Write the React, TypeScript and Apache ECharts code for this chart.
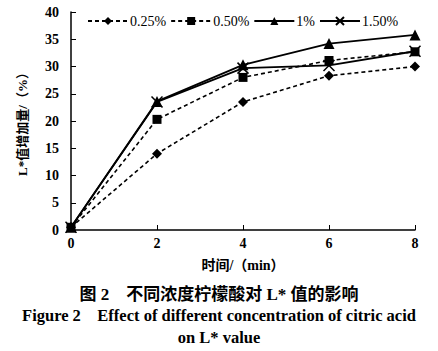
import React, { useEffect, useRef } from "react";
import * as echarts from "echarts";

const xValues = [0, 2, 4, 6, 8];
const seriesNames = ["0.25%", "0.50%", "1%", "1.50%"];
const s025 = [0.5, 14.0, 23.5, 28.3, 30.0];
const s050 = [0.5, 20.3, 28.0, 31.1, 32.7];
const s100 = [0.5, 23.6, 30.3, 34.2, 35.8];
const s150 = [0.5, 23.5, 29.7, 30.2, 32.8];
const yTicks = [0, 5, 10, 15, 20, 25, 30, 35, 40];

const serif = "'Liberation Serif', 'Times New Roman', serif";
const cjk = "'Liberation Serif', 'Noto Sans CJK SC', serif";

export default function App() {
  const ref = useRef<HTMLDivElement>(null);
  useEffect(() => {
    const chart = echarts.init(ref.current!, undefined, { renderer: "svg" });
    const mk = (arr: number[]) => arr.map((v, i) => [xValues[i], v]);
    const base = (name: string, data: number[], dashed: boolean, symbol: string, size: number, extra: any = {}) => ({
      name,
      type: "line",
      data: mk(data),
      symbol,
      symbolSize: size,
      showSymbol: true,
      lineStyle: { color: "#000", width: dashed ? 1.6 : 1.8, type: dashed ? [4, 3] : "solid" },
      itemStyle: { color: "#000", ...(extra.itemStyle || {}) },
      z: extra.z || 2,
    });
    chart.setOption({
      animation: false,
      backgroundColor: "#fff",
      grid: { left: 71, right: 23, top: 12, bottom: 121, containLabel: false },
      legend: {
        left: 82,
        top: 9,
        itemWidth: 40,
        itemHeight: 10,
        itemGap: 4,
        textStyle: { fontFamily: serif, fontSize: 14, color: "#000", padding: [0, 0, 0, -3] },
        data: seriesNames,
      },
      xAxis: {
        type: "value",
        min: 0,
        max: 8,
        interval: 2,
        axisLine: { lineStyle: { color: "#000", width: 1.5 } },
        axisTick: { inside: true, length: 5, lineStyle: { color: "#000" } },
        axisLabel: { color: "#000", fontFamily: serif, fontWeight: "bold", fontSize: 14, margin: 6 },
        splitLine: { show: false },
        name: "时间/（min）",
        nameLocation: "middle",
        nameGap: 28,
        nameTextStyle: { color: "#000", fontFamily: cjk, fontSize: 14, fontWeight: "bold" },
      },
      yAxis: {
        type: "value",
        min: 0,
        max: 40,
        interval: 5,
        axisLine: { show: true, lineStyle: { color: "#000", width: 1.5 } },
        axisTick: { show: true, inside: true, length: 5, lineStyle: { color: "#000" } },
        axisLabel: { color: "#000", fontFamily: serif, fontWeight: "bold", fontSize: 14, margin: 12 },
        splitLine: { show: false },
        name: "L*值增加量/（%）",
        nameLocation: "middle",
        nameGap: 42,
        nameRotate: 90,
        nameTextStyle: { color: "#000", fontFamily: cjk, fontSize: 13, fontWeight: "bold" },
      },
      series: [
        base("0.25%", s025, true, "diamond", 10),
        base("0.50%", s050, true, "rect", 9),
        base("1%", s100, false, "triangle", 11, { z: 3 }),
        base("1.50%", s150, false, "path://M0,0L10,10M10,0L0,10", 11, {
          itemStyle: { color: "none", borderColor: "#000", borderWidth: 1.5 },
        }),
      ],
      graphic: [
        {
          type: "text",
          left: "center",
          top: 286,
          style: { text: "图 2　不同浓度柠檬酸对 L* 值的影响", fontFamily: cjk, fontSize: 17, fontWeight: "bold", fill: "#000" },
        },
        {
          type: "text",
          left: "center",
          top: 307,
          style: { text: "Figure 2    Effect of different concentration of citric acid", fontFamily: serif, fontSize: 16.5, fontWeight: "bold", fill: "#000" },
        },
        {
          type: "text",
          left: "center",
          top: 329,
          style: { text: "on L* value", fontFamily: serif, fontSize: 16.5, fontWeight: "bold", fill: "#000" },
        },
      ],
    });
    return () => chart.dispose();
  }, []);
  return <div ref={ref} style={{ width: 438, height: 351, position: "absolute", left: 0, top: 0 }} />;
}
